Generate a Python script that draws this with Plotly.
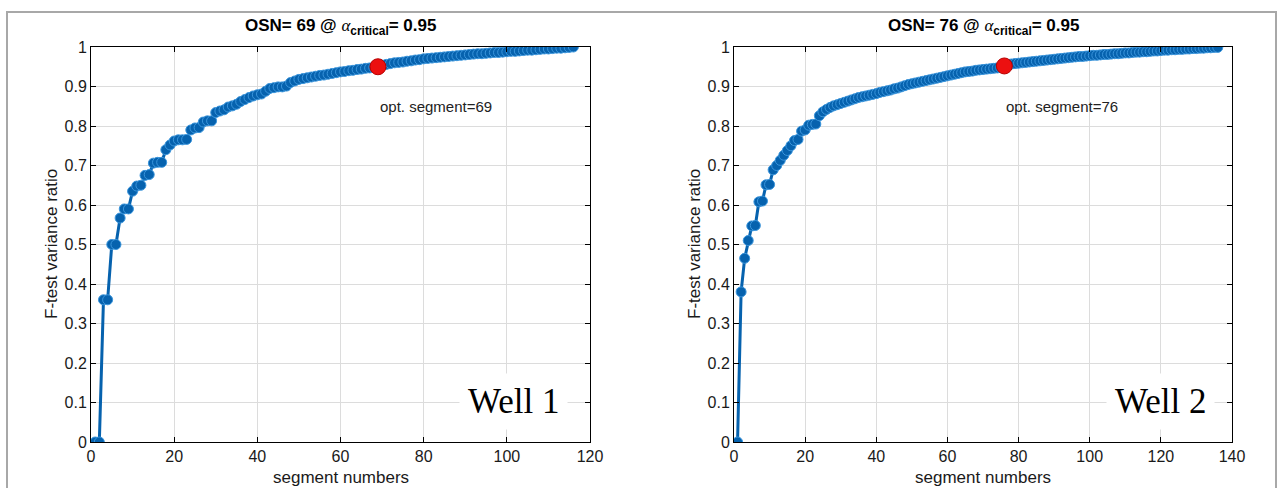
import plotly.graph_objects as go

# ---------------- data ----------------
well1_seg = list(range(1, 117))
well1_ratio = [
    0.000, 0.000, 0.360, 0.360, 0.500, 0.500, 0.567, 0.590, 0.590, 0.635,
    0.648, 0.650, 0.675, 0.677, 0.706, 0.708, 0.708, 0.740, 0.752, 0.762,
    0.765, 0.765, 0.766, 0.790, 0.795, 0.796, 0.810, 0.813, 0.813, 0.834,
    0.838, 0.841, 0.848, 0.851, 0.855, 0.862, 0.867, 0.872, 0.876, 0.879,
    0.881, 0.888, 0.895, 0.897, 0.899, 0.899, 0.901, 0.910, 0.914, 0.918,
    0.920, 0.922, 0.924, 0.926, 0.928, 0.929, 0.931, 0.933, 0.935, 0.937,
    0.938, 0.940, 0.941, 0.943, 0.944, 0.946, 0.947, 0.948, 0.950, 0.954,
    0.956, 0.958, 0.960, 0.961, 0.962, 0.964, 0.965, 0.967, 0.968, 0.970,
    0.971, 0.972, 0.973, 0.974, 0.975, 0.976, 0.977, 0.978, 0.979, 0.980,
    0.981, 0.982, 0.983, 0.983, 0.984, 0.985, 0.986, 0.986, 0.987, 0.988,
    0.989, 0.989, 0.990, 0.991, 0.992, 0.992, 0.993, 0.994, 0.995, 0.995,
    0.996, 0.997, 0.997, 0.998, 0.999, 1.000,
]

well2_seg = list(range(1, 137))
well2_ratio = [
    0.000, 0.380, 0.465, 0.510, 0.547, 0.548, 0.608, 0.610, 0.651, 0.652,
    0.689, 0.700, 0.713, 0.726, 0.738, 0.750, 0.763, 0.766, 0.787, 0.790,
    0.802, 0.804, 0.805, 0.826, 0.836, 0.842, 0.847, 0.851, 0.854, 0.857,
    0.860, 0.863, 0.866, 0.869, 0.872, 0.874, 0.876, 0.878, 0.880, 0.882,
    0.885, 0.887, 0.889, 0.891, 0.894, 0.896, 0.899, 0.902, 0.905, 0.907,
    0.909, 0.911, 0.913, 0.915, 0.917, 0.919, 0.921, 0.923, 0.925, 0.927,
    0.929, 0.931, 0.933, 0.935, 0.937, 0.938, 0.939, 0.941, 0.942, 0.943,
    0.944, 0.945, 0.946, 0.947, 0.948, 0.952, 0.955, 0.957, 0.958, 0.959,
    0.960, 0.961, 0.962, 0.963, 0.964, 0.965, 0.966, 0.967, 0.968, 0.969,
    0.970, 0.971, 0.972, 0.973, 0.974, 0.975, 0.976, 0.976, 0.977, 0.978,
    0.979, 0.979, 0.980, 0.981, 0.981, 0.982, 0.983, 0.983, 0.984, 0.985,
    0.985, 0.986, 0.987, 0.987, 0.988, 0.988, 0.989, 0.990, 0.990, 0.991,
    0.992, 0.992, 0.993, 0.993, 0.994, 0.994, 0.995, 0.995, 0.996, 0.996,
    0.997, 0.997, 0.998, 0.998, 0.999, 0.999,
]

wells = ["Well 1", "Well 2"]
osn = [69, 76]
alpha_critical = 0.95
x_max = [120, 140]
x_ticks = [[0, 20, 40, 60, 80, 100, 120], [0, 20, 40, 60, 80, 100, 120, 140]]
y_ticks = [0, 0.1, 0.2, 0.3, 0.4, 0.5, 0.6, 0.7, 0.8, 0.9, 1]
y_tick_text = ["0", "0.1", "0.2", "0.3", "0.4", "0.5", "0.6", "0.7", "0.8", "0.9", "1"]

# ---------------- styling ----------------
W, H = 1282, 488
BLUE = "#0662ae"
EDGE = "#3a95dc"
FONT = "Liberation Sans, Arial, sans-serif"
SERIF = "Liberation Serif, Times New Roman, serif"

boxes = [(91, 590), (734, 1232)]
top_px, bot_px = 47, 442

fig = go.Figure()
series = [(well1_seg, well1_ratio), (well2_seg, well2_ratio)]

for i, (xs, ys) in enumerate(series):
    xa = "x" if i == 0 else "x2"
    ya = "y" if i == 0 else "y2"
    fig.add_trace(go.Scatter(
        x=xs, y=ys, mode="lines+markers", xaxis=xa, yaxis=ya,
        line=dict(color=BLUE, width=3),
        marker=dict(symbol="circle", size=10, color=BLUE,
                    line=dict(color=EDGE, width=1)),
        showlegend=False, hoverinfo="x+y",
    ))
    k = osn[i]
    fig.add_trace(go.Scatter(
        x=[xs[k - 1]], y=[ys[k - 1]], mode="markers", xaxis=xa, yaxis=ya,
        marker=dict(symbol="circle", size=16, color="#ec1010",
                    line=dict(color="#b80000", width=1)),
        showlegend=False, hoverinfo="x+y",
    ))

layout = dict(
    width=W, height=H,
    margin=dict(l=0, r=0, t=0, b=0),
    paper_bgcolor="white", plot_bgcolor="white",
    font=dict(family=FONT, size=15, color="#1a1a1a"),
    showlegend=False,
)

annotations = []
shapes = []
for i in range(2):
    l, r = boxes[i]
    suffix = "" if i == 0 else "2"
    xdom = [l / W, r / W]
    ydom = [1 - bot_px / H, 1 - top_px / H]
    layout["xaxis" + suffix] = dict(
        domain=xdom, range=[0, x_max[i]], tickvals=x_ticks[i],
        ticktext=[str(v) for v in x_ticks[i]],
        showgrid=True, gridcolor="#dcdcdc", gridwidth=1,
        zeroline=False, showline=True, linecolor="#000000", linewidth=1,
        mirror="ticks", ticks="inside", ticklen=5, tickcolor="#000000",
        tickfont=dict(size=16, color="#1a1a1a"),
        anchor="y" if i == 0 else "y2", automargin=False,
    )
    layout["yaxis" + suffix] = dict(
        domain=ydom, range=[0, 1], tickvals=y_ticks, ticktext=y_tick_text,
        showgrid=True, gridcolor="#dcdcdc", gridwidth=1,
        zeroline=False, showline=True, linecolor="#000000", linewidth=1,
        mirror="ticks", ticks="inside", ticklen=5, tickcolor="#000000",
        tickfont=dict(size=16, color="#1a1a1a"),
        anchor="x" if i == 0 else "x2", automargin=False,
    )
    cx = (l + r) / 2 / W
    annotations.append(dict(
        xref="paper", yref="paper", x=cx, y=1 - 27 / H,
        xanchor="center", yanchor="middle", showarrow=False,
        text=("<b>OSN= %d @ </b><span style='font-family:Liberation Serif,Times New Roman,serif'><i>α</i></span>"
              "<b><sub>critical</sub>= %.2f</b>") % (osn[i], alpha_critical),
        font=dict(size=17, color="#000000"),
    ))
    annotations.append(dict(
        xref="paper", yref="paper", x=cx, y=1 - 477 / H,
        xanchor="center", yanchor="middle", showarrow=False,
        text="segment numbers", font=dict(size=17, color="#1a1a1a"),
    ))
    annotations.append(dict(
        xref="paper", yref="paper", x=(l - 40) / W, y=1 - 244 / H,
        xanchor="center", yanchor="middle", showarrow=False, textangle=-90,
        text="F-test variance ratio", font=dict(size=17, color="#1a1a1a"),
    ))
    annotations.append(dict(
        xref="x" + suffix, yref="y" + suffix, x=osn[i], y=0.85,
        xanchor="left", yanchor="middle", showarrow=False,
        text="opt. segment=%d" % osn[i], font=dict(size=15, color="#222222"),
    ))
    wx = [513, 1160][i]
    annotations.append(dict(
        xref="paper", yref="paper", x=wx / W, y=1 - 401 / H,
        xanchor="center", yanchor="middle", showarrow=False,
        text=wells[i], font=dict(family=SERIF, size=35, color="#000000"),
        bgcolor="white", borderpad=8,
    ))

shapes.append(dict(
    type="rect", xref="paper", yref="paper",
    x0=7 / W, x1=1276 / W, y0=-0.2, y1=1 - 12 / H,
    line=dict(color="#a8a8a8", width=2), fillcolor="rgba(0,0,0,0)",
))

layout["annotations"] = annotations
layout["shapes"] = shapes
fig.update_layout(**layout)

fig.write_html(
    "out.html",
    config={"displayModeBar": False},
    post_script="document.body.style.margin='0';document.body.style.padding='0';document.body.style.overflow='hidden';",
)
